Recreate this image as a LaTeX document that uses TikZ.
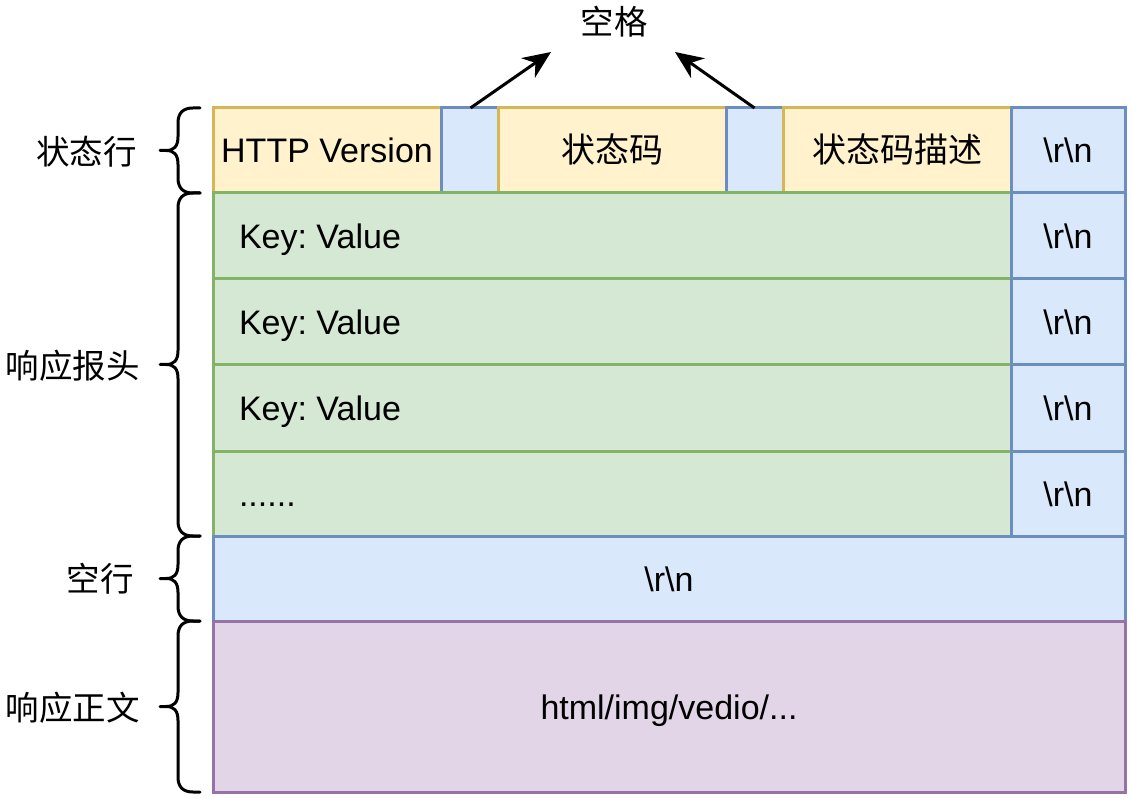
\documentclass[tikz,border=0pt]{standalone}
\usepackage{fontspec}
\setmainfont{Liberation Sans}
\newfontfamily\cjk{Noto Sans CJK SC}
\usetikzlibrary{arrows.meta}
\frenchspacing
\definecolor{yfill}{HTML}{FFF2CC}\definecolor{ydraw}{HTML}{D6B656}
\definecolor{bfill}{HTML}{DAE8FC}\definecolor{bdraw}{HTML}{6C8EBF}
\definecolor{gfill}{HTML}{D5E8D4}\definecolor{gdraw}{HTML}{82B366}
\definecolor{pfill}{HTML}{E1D5E7}\definecolor{pdraw}{HTML}{9673A6}
\tikzset{
  cell/.style={draw, line width=3pt, inner sep=0pt, outer sep=0pt,
    font=\fontsize{34}{40}\selectfont, anchor=north west,
    text height=26pt, text depth=1pt},
  ycell/.style={cell, fill=yfill, draw=ydraw, minimum height=85pt},
  bcell/.style={cell, fill=bfill, draw=bdraw},
  gcell/.style={cell, fill=gfill, draw=gdraw, minimum width=798pt, minimum height=86pt},
  crlf/.style={bcell, minimum width=114pt, minimum height=86pt},
  pcell/.style={cell, fill=pfill, draw=pdraw},
  lbl/.style={font=\fontsize{33.5}{38}\selectfont\cjk, inner sep=0pt},
  bracepath/.style={line width=3pt, line cap=round, line join=round},
  arr/.style={line width=3pt, -{Stealth[length=28pt,width=24pt,inset=9pt]}}
}
\newcommand{\mybrace}[2]{% top, bottom
  \pgfmathsetmacro{\mm}{(#1+#2)/2}
  \draw[bracepath] (200,#1) -- (193,#1) .. controls (183,#1) and (178,#1+5) .. (178,#1+15)
    -- (178,\mm-14) .. controls (178,\mm-4) and (174,\mm) .. (166,\mm) -- (160,\mm);
  \draw[bracepath] (200,#2) -- (193,#2) .. controls (183,#2) and (178,#2-5) .. (178,#2-15)
    -- (178,\mm+14) .. controls (178,\mm+4) and (174,\mm) .. (166,\mm);
}
\def\rn{\textbackslash r\textbackslash n}
\newcommand{\lefttext}[1]{\makebox[746pt][l]{#1}}
\begin{document}
\begin{tikzpicture}[x=1pt,y=-1pt]
\useasboundingbox (0,0) rectangle (1132,799);
% status line
\node[ycell, minimum width=228pt] (ver) at (213,108) {HTTP Version};
\node[bcell, minimum width=57pt, minimum height=85pt] (sp1) at (441,108) {};
\node[ycell, minimum width=228pt] (code) at (498,108) {\cjk 状态码};
\node[bcell, minimum width=57pt, minimum height=85pt] (sp2) at (726,108) {};
\node[ycell, minimum width=228pt] (desc) at (783,108) {\cjk 状态码描述};
\node[crlf, minimum height=85pt] (crlf0) at (1011,108) {\rn};
% headers
\node[gcell] (h1) at (213,193) {\lefttext{Key: Value}};
\node[crlf] (crlf1) at (1011,193) {\rn};
\node[gcell] (h2) at (213,279) {\lefttext{Key: Value}};
\node[crlf] (crlf2) at (1011,279) {\rn};
\node[gcell] (h3) at (213,365) {\lefttext{Key: Value}};
\node[crlf] (crlf3) at (1011,365) {\rn};
\node[gcell, minimum height=85pt] (h4) at (213,451) {\lefttext{......}};
\node[crlf, minimum height=85pt] (crlf4) at (1011,451) {\rn};
% empty line
\node[bcell, minimum width=912pt, minimum height=85pt] (empty) at (213,536) {\rn};
% body
\node[pcell, minimum width=912pt, minimum height=171pt] (body) at (213,621) {html/img/vedio/...};
% space label and arrows
\node[lbl] (space) at (614,22) {空格};
\coordinate (t1) at (551,52);
\coordinate (t2) at (675,52);
\draw[arr] ([xshift=1pt]sp1.north) -- (t1);
\draw[arr] (sp2.north) -- (t2);
% braces
\mybrace{108}{193}
\mybrace{193}{536}
\mybrace{536}{621}
\mybrace{621}{792}
\node[lbl, anchor=east] (l1) at (137,152) {状态行};
\node[lbl, anchor=east] (l2) at (140,366) {响应报头};
\node[lbl, anchor=east] (l3) at (134,579) {空行};
\node[lbl, anchor=east] (l4) at (140,708) {响应正文};
\end{tikzpicture}
\end{document}
